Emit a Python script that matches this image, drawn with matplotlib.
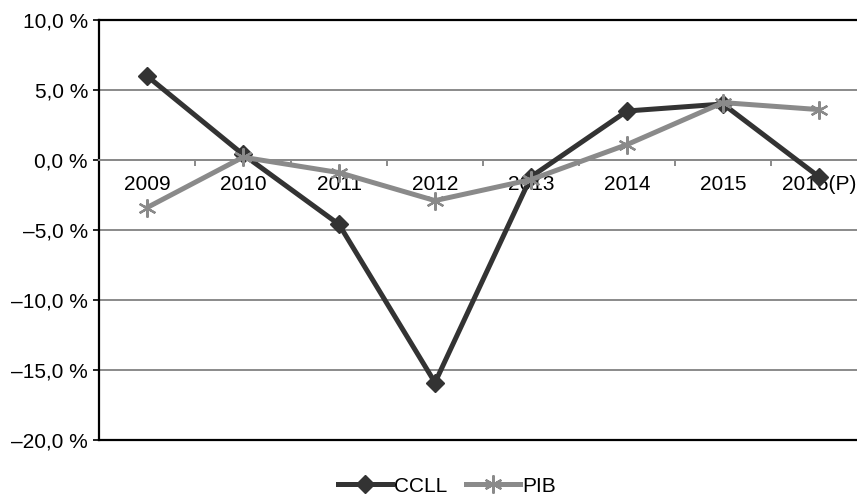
import matplotlib
matplotlib.use("Agg")
import matplotlib.pyplot as plt
from matplotlib.ticker import FuncFormatter, FixedLocator
from matplotlib.lines import Line2D

plt.rcParams['font.family'] = ['Liberation Sans', 'DejaVu Sans']

years = ["2009", "2010", "2011", "2012", "2013", "2014", "2015", "2016(P)"]
ccll = [6.0, 0.4, -4.6, -15.9, -1.2, 3.5, 4.0, -1.2]
pib = [-3.4, 0.2, -0.9, -2.9, -1.4, 1.1, 4.1, 3.6]
y_ticks = [10, 5, 0, -5, -10, -15, -20]

W, H = 857, 497
fig = plt.figure(figsize=(W / 100, H / 100), dpi=100)
left, right, top, bottom = 99, 867, 20, 440
ax = fig.add_axes([left / W, 1 - bottom / H, (right - left) / W, (bottom - top) / H])

dark = "#333333"
grey = "#8a8a8a"
fs = 15

x = list(range(len(years)))
ax.plot(x, ccll, color=dark, lw=3.6, marker="D", ms=9.5, mfc=dark, mec=dark,
        zorder=3, clip_on=False, label="CCLL")
ax.plot(x, pib, color=grey, lw=3.6, marker=(6, 2, 0), ms=13, mec=grey, mew=1.6,
        zorder=4, clip_on=False, label="PIB")

ax.set_xlim(-0.5, len(years) - 0.5)
ax.set_ylim(-20, 10)

# y axis
ax.yaxis.set_major_locator(FixedLocator(y_ticks))
ax.yaxis.set_major_formatter(FuncFormatter(
    lambda v, p: f"{abs(v):.1f}".replace(".", ",").join(["\u2013" if v < 0 else "", " %"])))
ax.tick_params(axis="y", length=4, width=1.2, pad=4, labelsize=fs, colors="black")
ax.yaxis.grid(True, color=grey, lw=1.4)
ax.set_axisbelow(True)

# x axis sits on the zero line
ax.spines["bottom"].set_position(("data", 0))
ax.spines["bottom"].set_color(grey)
ax.spines["bottom"].set_linewidth(1.4)
ax.set_xticks(x)
ax.set_xticklabels(years)
ax.set_xticks([i - 0.5 for i in range(len(years) + 1)], minor=True)
ax.tick_params(axis="x", which="major", length=0, pad=11, labelsize=fs)
ax.tick_params(axis="x", which="minor", length=4, width=1.4, color=grey)

for s in ("left", "top"):
    ax.spines[s].set_color("black")
    ax.spines[s].set_linewidth(1.6)
ax.spines["right"].set_visible(False)
ax.plot([0, 1], [0, 0], transform=ax.transAxes, color="black", lw=1.6,
        clip_on=False, zorder=2)

handles = [
    Line2D([], [], color=dark, lw=3.6, marker="D", ms=9.5, mfc=dark, mec=dark),
    Line2D([], [], color=grey, lw=3.6, marker=(6, 2, 0), ms=13, mec=grey, mew=1.6),
]
fig.legend(handles, ["CCLL", "PIB"], loc="center", bbox_to_anchor=(447 / W, 1 - 486 / H),
           ncol=2, frameon=False, fontsize=fs, handlelength=2.6, handletextpad=0.1,
           columnspacing=0.9)

fig.savefig("out.png", dpi=100)
